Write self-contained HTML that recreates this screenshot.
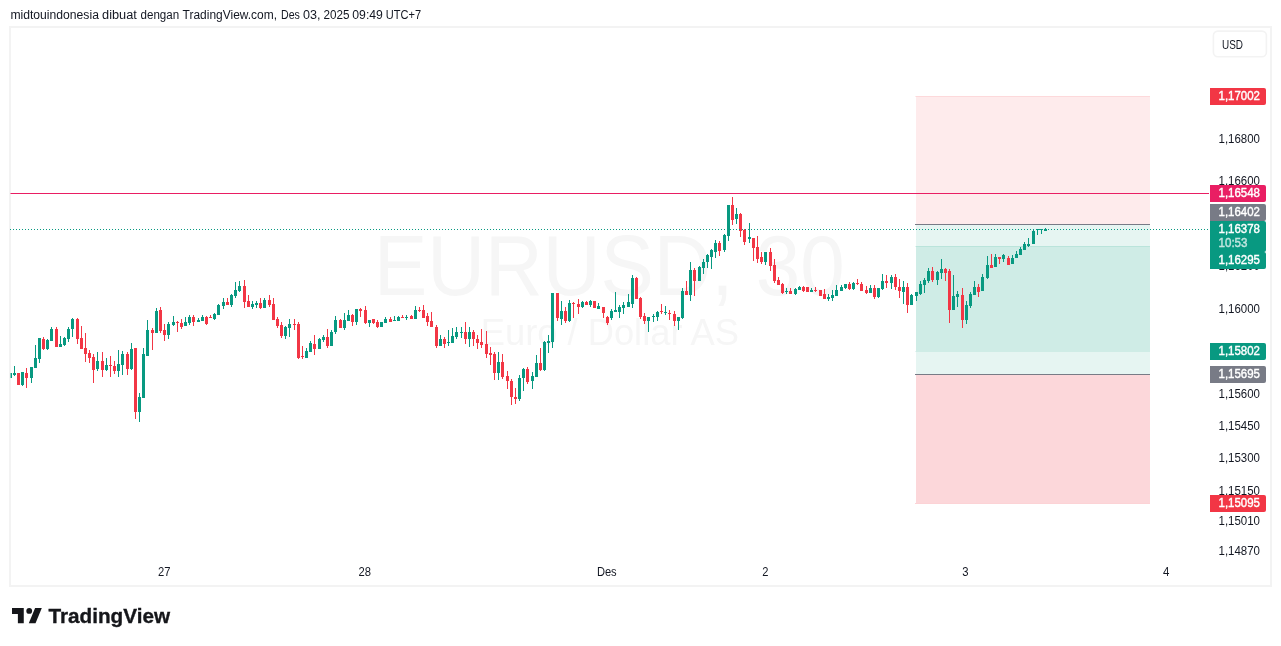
<!DOCTYPE html>
<html lang="id">
<head>
<meta charset="utf-8">
<title>EURUSD, 30 - TradingView</title>
<style>
html, body { margin: 0; padding: 0; background: #ffffff; }
body { width: 1281px; height: 646px; overflow: hidden; font-family: "Liberation Sans", sans-serif; }
svg { display: block; font-family: "Liberation Sans", sans-serif; }
</style>
</head>
<body>
<svg width="1281" height="646" viewBox="0 0 1281 646">
<rect x="10" y="27" width="1261" height="559" fill="#fff" stroke="#F3F3F3" stroke-width="2" shape-rendering="crispEdges"/>
<text x="374.1" y="295" font-size="85.5" fill="#F6F6F6" textLength="470.5" lengthAdjust="spacingAndGlyphs">EURUSD, 30</text>
<text x="480.8" y="345.3" font-size="36.5" fill="#F6F6F6" textLength="258.2" lengthAdjust="spacingAndGlyphs">Euro / Dollar AS</text>
<g shape-rendering="crispEdges">
<rect x="916" y="96" width="234" height="128" fill="#F23645" fill-opacity="0.10"/>
<rect x="915" y="96" width="235" height="1" fill="#F23645" fill-opacity="0.10"/>
<rect x="916" y="224" width="234" height="128" fill="#089981" fill-opacity="0.10"/>
<rect x="916" y="246" width="234" height="128" fill="#089981" fill-opacity="0.10"/>
<rect x="916" y="374" width="234" height="129" fill="#F23645" fill-opacity="0.20"/>
<rect x="915" y="503" width="235" height="1" fill="#F23645" fill-opacity="0.22"/>
<rect x="915" y="351" width="1" height="1" fill="#089981" fill-opacity="0.10"/>
<rect x="915" y="246" width="235" height="1" fill="#089981" fill-opacity="0.10"/>
<rect x="915" y="224" width="235" height="1" fill="#787B86"/>
<rect x="915" y="374" width="235" height="1" fill="#787B86"/>
</g>
<rect x="10.5" y="193" width="1198.5" height="1" fill="#E91E63"/>
<g shape-rendering="crispEdges">
<rect x="11" y="373" width="1" height="5" fill="#089981"/>
<rect x="10" y="373" width="1" height="5" fill="#089981" fill-opacity="0.45"/>
<rect x="14" y="366" width="1" height="10" fill="#089981"/>
<rect x="13" y="373" width="3" height="2" fill="#089981"/>
<rect x="18" y="373" width="1" height="12" fill="#F23645"/>
<rect x="17" y="373" width="3" height="12" fill="#F23645"/>
<rect x="22" y="372" width="1" height="14" fill="#089981"/>
<rect x="21" y="372" width="3" height="13" fill="#089981"/>
<rect x="26" y="368" width="1" height="20" fill="#F23645"/>
<rect x="25" y="373" width="3" height="5" fill="#F23645"/>
<rect x="31" y="367" width="1" height="16" fill="#089981"/>
<rect x="30" y="367" width="3" height="11" fill="#089981"/>
<rect x="35" y="345" width="1" height="23" fill="#089981"/>
<rect x="34" y="358" width="3" height="10" fill="#089981"/>
<rect x="39" y="338" width="1" height="25" fill="#089981"/>
<rect x="38" y="338" width="3" height="21" fill="#089981"/>
<rect x="43" y="337" width="1" height="13" fill="#F23645"/>
<rect x="42" y="339" width="3" height="10" fill="#F23645"/>
<rect x="47" y="339" width="1" height="11" fill="#089981"/>
<rect x="46" y="340" width="3" height="9" fill="#089981"/>
<rect x="51" y="327" width="1" height="14" fill="#089981"/>
<rect x="50" y="329" width="3" height="12" fill="#089981"/>
<rect x="56" y="327" width="1" height="20" fill="#F23645"/>
<rect x="55" y="329" width="3" height="18" fill="#F23645"/>
<rect x="60" y="336" width="1" height="11" fill="#089981"/>
<rect x="59" y="344" width="3" height="3" fill="#089981"/>
<rect x="64" y="337" width="1" height="9" fill="#089981"/>
<rect x="63" y="338" width="3" height="7" fill="#089981"/>
<rect x="68" y="327" width="1" height="15" fill="#089981"/>
<rect x="67" y="329" width="3" height="10" fill="#089981"/>
<rect x="72" y="318" width="1" height="19" fill="#089981"/>
<rect x="71" y="319" width="3" height="10" fill="#089981"/>
<rect x="77" y="318" width="1" height="26" fill="#F23645"/>
<rect x="76" y="319" width="3" height="20" fill="#F23645"/>
<rect x="81" y="326" width="1" height="23" fill="#F23645"/>
<rect x="80" y="338" width="3" height="11" fill="#F23645"/>
<rect x="85" y="333" width="1" height="29" fill="#F23645"/>
<rect x="84" y="348" width="3" height="6" fill="#F23645"/>
<rect x="89" y="350" width="1" height="13" fill="#F23645"/>
<rect x="88" y="353" width="3" height="5" fill="#F23645"/>
<rect x="93" y="354" width="1" height="29" fill="#F23645"/>
<rect x="92" y="357" width="3" height="13" fill="#F23645"/>
<rect x="97" y="352" width="1" height="19" fill="#089981"/>
<rect x="96" y="361" width="3" height="8" fill="#089981"/>
<rect x="102" y="352" width="1" height="25" fill="#F23645"/>
<rect x="101" y="361" width="3" height="9" fill="#F23645"/>
<rect x="106" y="358" width="1" height="13" fill="#089981"/>
<rect x="105" y="365" width="3" height="5" fill="#089981"/>
<rect x="110" y="356" width="1" height="21" fill="#F23645"/>
<rect x="109" y="365" width="3" height="1" fill="#F23645"/>
<rect x="114" y="361" width="1" height="13" fill="#F23645"/>
<rect x="113" y="366" width="3" height="5" fill="#F23645"/>
<rect x="118" y="350" width="1" height="27" fill="#089981"/>
<rect x="117" y="364" width="3" height="7" fill="#089981"/>
<rect x="122" y="351" width="1" height="24" fill="#089981"/>
<rect x="121" y="354" width="3" height="11" fill="#089981"/>
<rect x="127" y="352" width="1" height="23" fill="#F23645"/>
<rect x="126" y="354" width="3" height="15" fill="#F23645"/>
<rect x="131" y="343" width="1" height="27" fill="#089981"/>
<rect x="130" y="349" width="3" height="20" fill="#089981"/>
<rect x="135" y="348" width="1" height="71" fill="#F23645"/>
<rect x="134" y="348" width="3" height="64" fill="#F23645"/>
<rect x="139" y="393" width="1" height="29" fill="#089981"/>
<rect x="138" y="397" width="3" height="15" fill="#089981"/>
<rect x="143" y="348" width="1" height="50" fill="#089981"/>
<rect x="142" y="354" width="3" height="44" fill="#089981"/>
<rect x="147" y="320" width="1" height="36" fill="#089981"/>
<rect x="146" y="330" width="3" height="26" fill="#089981"/>
<rect x="152" y="328" width="1" height="22" fill="#F23645"/>
<rect x="151" y="330" width="3" height="3" fill="#F23645"/>
<rect x="156" y="308" width="1" height="25" fill="#089981"/>
<rect x="155" y="311" width="3" height="22" fill="#089981"/>
<rect x="160" y="307" width="1" height="26" fill="#F23645"/>
<rect x="159" y="310" width="3" height="21" fill="#F23645"/>
<rect x="164" y="324" width="1" height="17" fill="#F23645"/>
<rect x="163" y="330" width="3" height="5" fill="#F23645"/>
<rect x="168" y="322" width="1" height="17" fill="#089981"/>
<rect x="167" y="324" width="3" height="11" fill="#089981"/>
<rect x="173" y="316" width="1" height="10" fill="#089981"/>
<rect x="172" y="322" width="3" height="3" fill="#089981"/>
<rect x="177" y="321" width="1" height="11" fill="#F23645"/>
<rect x="176" y="322" width="3" height="1" fill="#F23645"/>
<rect x="181" y="319" width="1" height="10" fill="#F23645"/>
<rect x="180" y="323" width="3" height="4" fill="#F23645"/>
<rect x="185" y="317" width="1" height="9" fill="#089981"/>
<rect x="184" y="322" width="3" height="4" fill="#089981"/>
<rect x="189" y="315" width="1" height="10" fill="#089981"/>
<rect x="188" y="317" width="3" height="6" fill="#089981"/>
<rect x="193" y="315" width="1" height="11" fill="#F23645"/>
<rect x="192" y="317" width="3" height="5" fill="#F23645"/>
<rect x="198" y="318" width="1" height="4" fill="#089981"/>
<rect x="197" y="320" width="3" height="2" fill="#089981"/>
<rect x="202" y="315" width="1" height="6" fill="#089981"/>
<rect x="201" y="317" width="3" height="4" fill="#089981"/>
<rect x="206" y="316" width="1" height="9" fill="#F23645"/>
<rect x="205" y="317" width="3" height="7" fill="#F23645"/>
<rect x="210" y="315" width="1" height="3" fill="#F23645"/>
<rect x="209" y="317" width="3" height="1" fill="#F23645"/>
<rect x="214" y="313" width="1" height="7" fill="#089981"/>
<rect x="213" y="314" width="3" height="5" fill="#089981"/>
<rect x="218" y="304" width="1" height="11" fill="#089981"/>
<rect x="217" y="305" width="3" height="10" fill="#089981"/>
<rect x="223" y="298" width="1" height="11" fill="#089981"/>
<rect x="222" y="302" width="3" height="4" fill="#089981"/>
<rect x="227" y="298" width="1" height="7" fill="#F23645"/>
<rect x="226" y="302" width="3" height="3" fill="#F23645"/>
<rect x="231" y="294" width="1" height="13" fill="#089981"/>
<rect x="230" y="295" width="3" height="10" fill="#089981"/>
<rect x="235" y="282" width="1" height="16" fill="#089981"/>
<rect x="234" y="290" width="3" height="6" fill="#089981"/>
<rect x="239" y="281" width="1" height="11" fill="#089981"/>
<rect x="238" y="286" width="3" height="5" fill="#089981"/>
<rect x="244" y="280" width="1" height="28" fill="#F23645"/>
<rect x="243" y="286" width="3" height="16" fill="#F23645"/>
<rect x="248" y="295" width="1" height="12" fill="#F23645"/>
<rect x="247" y="301" width="3" height="6" fill="#F23645"/>
<rect x="252" y="301" width="1" height="8" fill="#089981"/>
<rect x="251" y="304" width="3" height="3" fill="#089981"/>
<rect x="256" y="301" width="1" height="7" fill="#089981"/>
<rect x="255" y="303" width="3" height="2" fill="#089981"/>
<rect x="260" y="298" width="1" height="11" fill="#F23645"/>
<rect x="259" y="303" width="3" height="5" fill="#F23645"/>
<rect x="264" y="298" width="1" height="10" fill="#089981"/>
<rect x="263" y="300" width="3" height="8" fill="#089981"/>
<rect x="269" y="295" width="1" height="12" fill="#F23645"/>
<rect x="268" y="300" width="3" height="5" fill="#F23645"/>
<rect x="273" y="298" width="1" height="22" fill="#F23645"/>
<rect x="272" y="304" width="3" height="16" fill="#F23645"/>
<rect x="277" y="317" width="1" height="11" fill="#F23645"/>
<rect x="276" y="319" width="3" height="7" fill="#F23645"/>
<rect x="281" y="322" width="1" height="16" fill="#F23645"/>
<rect x="280" y="325" width="3" height="11" fill="#F23645"/>
<rect x="285" y="326" width="1" height="13" fill="#089981"/>
<rect x="284" y="327" width="3" height="9" fill="#089981"/>
<rect x="289" y="319" width="1" height="18" fill="#089981"/>
<rect x="288" y="324" width="3" height="4" fill="#089981"/>
<rect x="294" y="319" width="1" height="11" fill="#F23645"/>
<rect x="293" y="324" width="3" height="1" fill="#F23645"/>
<rect x="298" y="322" width="1" height="37" fill="#F23645"/>
<rect x="297" y="324" width="3" height="34" fill="#F23645"/>
<rect x="302" y="346" width="1" height="13" fill="#F23645"/>
<rect x="301" y="356" width="3" height="1" fill="#F23645"/>
<rect x="306" y="348" width="1" height="10" fill="#089981"/>
<rect x="305" y="351" width="3" height="7" fill="#089981"/>
<rect x="310" y="341" width="1" height="11" fill="#089981"/>
<rect x="309" y="343" width="3" height="9" fill="#089981"/>
<rect x="314" y="335" width="1" height="20" fill="#F23645"/>
<rect x="313" y="344" width="3" height="5" fill="#F23645"/>
<rect x="319" y="338" width="1" height="11" fill="#089981"/>
<rect x="318" y="339" width="3" height="10" fill="#089981"/>
<rect x="323" y="335" width="1" height="7" fill="#089981"/>
<rect x="322" y="337" width="3" height="3" fill="#089981"/>
<rect x="327" y="329" width="1" height="19" fill="#F23645"/>
<rect x="326" y="337" width="3" height="9" fill="#F23645"/>
<rect x="331" y="330" width="1" height="16" fill="#089981"/>
<rect x="330" y="332" width="3" height="14" fill="#089981"/>
<rect x="335" y="316" width="1" height="18" fill="#089981"/>
<rect x="334" y="320" width="3" height="12" fill="#089981"/>
<rect x="340" y="319" width="1" height="9" fill="#F23645"/>
<rect x="339" y="320" width="3" height="8" fill="#F23645"/>
<rect x="344" y="313" width="1" height="17" fill="#089981"/>
<rect x="343" y="320" width="3" height="8" fill="#089981"/>
<rect x="348" y="310" width="1" height="11" fill="#089981"/>
<rect x="347" y="315" width="3" height="6" fill="#089981"/>
<rect x="352" y="314" width="1" height="12" fill="#F23645"/>
<rect x="351" y="315" width="3" height="7" fill="#F23645"/>
<rect x="356" y="309" width="1" height="16" fill="#089981"/>
<rect x="355" y="309" width="3" height="13" fill="#089981"/>
<rect x="360" y="308" width="1" height="9" fill="#F23645"/>
<rect x="359" y="309" width="3" height="2" fill="#F23645"/>
<rect x="365" y="306" width="1" height="18" fill="#F23645"/>
<rect x="364" y="310" width="3" height="13" fill="#F23645"/>
<rect x="369" y="320" width="1" height="7" fill="#089981"/>
<rect x="368" y="320" width="3" height="3" fill="#089981"/>
<rect x="373" y="319" width="1" height="5" fill="#F23645"/>
<rect x="372" y="319" width="3" height="4" fill="#F23645"/>
<rect x="377" y="320" width="1" height="8" fill="#F23645"/>
<rect x="376" y="322" width="3" height="5" fill="#F23645"/>
<rect x="381" y="322" width="1" height="5" fill="#089981"/>
<rect x="380" y="322" width="3" height="5" fill="#089981"/>
<rect x="385" y="317" width="1" height="6" fill="#089981"/>
<rect x="384" y="319" width="3" height="4" fill="#089981"/>
<rect x="390" y="317" width="1" height="5" fill="#F23645"/>
<rect x="389" y="319" width="3" height="3" fill="#F23645"/>
<rect x="394" y="316" width="1" height="5" fill="#089981"/>
<rect x="393" y="320" width="3" height="1" fill="#089981"/>
<rect x="398" y="316" width="1" height="5" fill="#089981"/>
<rect x="397" y="317" width="3" height="4" fill="#089981"/>
<rect x="402" y="315" width="1" height="3" fill="#F23645"/>
<rect x="401" y="317" width="3" height="1" fill="#F23645"/>
<rect x="406" y="315" width="1" height="5" fill="#089981"/>
<rect x="405" y="317" width="3" height="1" fill="#089981"/>
<rect x="411" y="315" width="1" height="4" fill="#F23645"/>
<rect x="410" y="316" width="3" height="3" fill="#F23645"/>
<rect x="415" y="306" width="1" height="13" fill="#089981"/>
<rect x="414" y="310" width="3" height="9" fill="#089981"/>
<rect x="419" y="307" width="1" height="5" fill="#F23645"/>
<rect x="418" y="310" width="3" height="1" fill="#F23645"/>
<rect x="423" y="305" width="1" height="13" fill="#F23645"/>
<rect x="422" y="310" width="3" height="8" fill="#F23645"/>
<rect x="427" y="313" width="1" height="13" fill="#F23645"/>
<rect x="426" y="316" width="3" height="6" fill="#F23645"/>
<rect x="431" y="312" width="1" height="15" fill="#F23645"/>
<rect x="430" y="321" width="3" height="6" fill="#F23645"/>
<rect x="436" y="325" width="1" height="23" fill="#F23645"/>
<rect x="435" y="327" width="3" height="19" fill="#F23645"/>
<rect x="440" y="335" width="1" height="11" fill="#089981"/>
<rect x="439" y="339" width="3" height="7" fill="#089981"/>
<rect x="444" y="337" width="1" height="11" fill="#F23645"/>
<rect x="443" y="339" width="3" height="5" fill="#F23645"/>
<rect x="448" y="330" width="1" height="16" fill="#089981"/>
<rect x="447" y="342" width="3" height="1" fill="#089981"/>
<rect x="452" y="328" width="1" height="15" fill="#089981"/>
<rect x="451" y="336" width="3" height="7" fill="#089981"/>
<rect x="456" y="327" width="1" height="12" fill="#089981"/>
<rect x="455" y="332" width="3" height="5" fill="#089981"/>
<rect x="461" y="327" width="1" height="11" fill="#089981"/>
<rect x="460" y="332" width="3" height="1" fill="#089981"/>
<rect x="465" y="322" width="1" height="22" fill="#F23645"/>
<rect x="464" y="332" width="3" height="7" fill="#F23645"/>
<rect x="469" y="327" width="1" height="20" fill="#089981"/>
<rect x="468" y="332" width="3" height="7" fill="#089981"/>
<rect x="473" y="330" width="1" height="16" fill="#F23645"/>
<rect x="472" y="332" width="3" height="7" fill="#F23645"/>
<rect x="477" y="335" width="1" height="14" fill="#F23645"/>
<rect x="476" y="339" width="3" height="4" fill="#F23645"/>
<rect x="481" y="329" width="1" height="19" fill="#F23645"/>
<rect x="480" y="342" width="3" height="3" fill="#F23645"/>
<rect x="486" y="331" width="1" height="27" fill="#F23645"/>
<rect x="485" y="344" width="3" height="10" fill="#F23645"/>
<rect x="490" y="347" width="1" height="18" fill="#F23645"/>
<rect x="489" y="353" width="3" height="2" fill="#F23645"/>
<rect x="494" y="352" width="1" height="28" fill="#F23645"/>
<rect x="493" y="354" width="3" height="19" fill="#F23645"/>
<rect x="498" y="352" width="1" height="28" fill="#089981"/>
<rect x="497" y="362" width="3" height="11" fill="#089981"/>
<rect x="502" y="354" width="1" height="25" fill="#F23645"/>
<rect x="501" y="362" width="3" height="15" fill="#F23645"/>
<rect x="507" y="371" width="1" height="18" fill="#F23645"/>
<rect x="506" y="376" width="3" height="5" fill="#F23645"/>
<rect x="511" y="379" width="1" height="26" fill="#F23645"/>
<rect x="510" y="381" width="3" height="16" fill="#F23645"/>
<rect x="515" y="388" width="1" height="16" fill="#F23645"/>
<rect x="514" y="397" width="3" height="2" fill="#F23645"/>
<rect x="519" y="375" width="1" height="26" fill="#089981"/>
<rect x="518" y="378" width="3" height="21" fill="#089981"/>
<rect x="523" y="368" width="1" height="23" fill="#089981"/>
<rect x="522" y="369" width="3" height="9" fill="#089981"/>
<rect x="527" y="367" width="1" height="17" fill="#F23645"/>
<rect x="526" y="369" width="3" height="13" fill="#F23645"/>
<rect x="532" y="372" width="1" height="17" fill="#089981"/>
<rect x="531" y="376" width="3" height="5" fill="#089981"/>
<rect x="536" y="355" width="1" height="22" fill="#089981"/>
<rect x="535" y="363" width="3" height="14" fill="#089981"/>
<rect x="540" y="348" width="1" height="23" fill="#F23645"/>
<rect x="539" y="363" width="3" height="7" fill="#F23645"/>
<rect x="544" y="341" width="1" height="30" fill="#089981"/>
<rect x="543" y="342" width="3" height="28" fill="#089981"/>
<rect x="548" y="335" width="1" height="18" fill="#089981"/>
<rect x="547" y="341" width="3" height="2" fill="#089981"/>
<rect x="552" y="293" width="1" height="55" fill="#089981"/>
<rect x="551" y="293" width="3" height="49" fill="#089981"/>
<rect x="557" y="293" width="1" height="28" fill="#F23645"/>
<rect x="556" y="293" width="3" height="25" fill="#F23645"/>
<rect x="561" y="301" width="1" height="24" fill="#089981"/>
<rect x="560" y="311" width="3" height="8" fill="#089981"/>
<rect x="565" y="307" width="1" height="16" fill="#F23645"/>
<rect x="564" y="311" width="3" height="10" fill="#F23645"/>
<rect x="569" y="300" width="1" height="22" fill="#089981"/>
<rect x="568" y="303" width="3" height="18" fill="#089981"/>
<rect x="573" y="302" width="1" height="16" fill="#F23645"/>
<rect x="572" y="303" width="3" height="1" fill="#F23645"/>
<rect x="578" y="299" width="1" height="15" fill="#F23645"/>
<rect x="577" y="304" width="3" height="3" fill="#F23645"/>
<rect x="582" y="301" width="1" height="7" fill="#089981"/>
<rect x="581" y="302" width="3" height="5" fill="#089981"/>
<rect x="586" y="301" width="1" height="4" fill="#F23645"/>
<rect x="585" y="302" width="3" height="3" fill="#F23645"/>
<rect x="590" y="300" width="1" height="7" fill="#089981"/>
<rect x="589" y="301" width="3" height="4" fill="#089981"/>
<rect x="594" y="301" width="1" height="7" fill="#F23645"/>
<rect x="593" y="301" width="3" height="7" fill="#F23645"/>
<rect x="598" y="303" width="1" height="6" fill="#089981"/>
<rect x="597" y="306" width="3" height="3" fill="#089981"/>
<rect x="603" y="307" width="1" height="11" fill="#F23645"/>
<rect x="602" y="307" width="3" height="6" fill="#F23645"/>
<rect x="607" y="316" width="1" height="9" fill="#F23645"/>
<rect x="606" y="317" width="3" height="6" fill="#F23645"/>
<rect x="611" y="309" width="1" height="11" fill="#089981"/>
<rect x="610" y="311" width="3" height="7" fill="#089981"/>
<rect x="615" y="292" width="1" height="20" fill="#089981"/>
<rect x="614" y="310" width="3" height="2" fill="#089981"/>
<rect x="619" y="305" width="1" height="13" fill="#089981"/>
<rect x="618" y="307" width="3" height="5" fill="#089981"/>
<rect x="623" y="302" width="1" height="12" fill="#089981"/>
<rect x="622" y="305" width="3" height="3" fill="#089981"/>
<rect x="628" y="294" width="1" height="13" fill="#089981"/>
<rect x="627" y="302" width="3" height="5" fill="#089981"/>
<rect x="632" y="275" width="1" height="33" fill="#089981"/>
<rect x="631" y="278" width="3" height="26" fill="#089981"/>
<rect x="636" y="277" width="1" height="22" fill="#F23645"/>
<rect x="635" y="278" width="3" height="21" fill="#F23645"/>
<rect x="640" y="297" width="1" height="22" fill="#F23645"/>
<rect x="639" y="298" width="3" height="19" fill="#F23645"/>
<rect x="644" y="313" width="1" height="11" fill="#F23645"/>
<rect x="643" y="316" width="3" height="5" fill="#F23645"/>
<rect x="648" y="317" width="1" height="15" fill="#089981"/>
<rect x="647" y="317" width="3" height="4" fill="#089981"/>
<rect x="653" y="314" width="1" height="8" fill="#089981"/>
<rect x="652" y="316" width="3" height="1" fill="#089981"/>
<rect x="657" y="311" width="1" height="10" fill="#089981"/>
<rect x="656" y="312" width="3" height="5" fill="#089981"/>
<rect x="661" y="304" width="1" height="10" fill="#F23645"/>
<rect x="660" y="311" width="3" height="1" fill="#F23645"/>
<rect x="665" y="306" width="1" height="9" fill="#089981"/>
<rect x="664" y="312" width="3" height="1" fill="#089981"/>
<rect x="669" y="310" width="1" height="10" fill="#F23645"/>
<rect x="668" y="313" width="3" height="1" fill="#F23645"/>
<rect x="674" y="311" width="1" height="15" fill="#F23645"/>
<rect x="673" y="314" width="3" height="7" fill="#F23645"/>
<rect x="678" y="317" width="1" height="13" fill="#089981"/>
<rect x="677" y="317" width="3" height="4" fill="#089981"/>
<rect x="682" y="288" width="1" height="31" fill="#089981"/>
<rect x="681" y="291" width="3" height="27" fill="#089981"/>
<rect x="686" y="281" width="1" height="14" fill="#F23645"/>
<rect x="685" y="291" width="3" height="4" fill="#F23645"/>
<rect x="690" y="262" width="1" height="39" fill="#089981"/>
<rect x="689" y="270" width="3" height="25" fill="#089981"/>
<rect x="694" y="268" width="1" height="28" fill="#F23645"/>
<rect x="693" y="270" width="3" height="11" fill="#F23645"/>
<rect x="699" y="266" width="1" height="15" fill="#089981"/>
<rect x="698" y="267" width="3" height="14" fill="#089981"/>
<rect x="703" y="259" width="1" height="15" fill="#089981"/>
<rect x="702" y="262" width="3" height="6" fill="#089981"/>
<rect x="707" y="254" width="1" height="14" fill="#089981"/>
<rect x="706" y="255" width="3" height="7" fill="#089981"/>
<rect x="711" y="249" width="1" height="20" fill="#089981"/>
<rect x="710" y="250" width="3" height="7" fill="#089981"/>
<rect x="715" y="240" width="1" height="18" fill="#089981"/>
<rect x="714" y="243" width="3" height="9" fill="#089981"/>
<rect x="719" y="241" width="1" height="15" fill="#F23645"/>
<rect x="718" y="243" width="3" height="8" fill="#F23645"/>
<rect x="724" y="234" width="1" height="18" fill="#089981"/>
<rect x="723" y="235" width="3" height="15" fill="#089981"/>
<rect x="728" y="205" width="1" height="36" fill="#089981"/>
<rect x="727" y="205" width="3" height="31" fill="#089981"/>
<rect x="732" y="197" width="1" height="28" fill="#F23645"/>
<rect x="731" y="205" width="3" height="15" fill="#F23645"/>
<rect x="736" y="208" width="1" height="16" fill="#089981"/>
<rect x="735" y="214" width="3" height="5" fill="#089981"/>
<rect x="740" y="213" width="1" height="24" fill="#F23645"/>
<rect x="739" y="214" width="3" height="17" fill="#F23645"/>
<rect x="744" y="229" width="1" height="16" fill="#F23645"/>
<rect x="743" y="230" width="3" height="12" fill="#F23645"/>
<rect x="749" y="223" width="1" height="20" fill="#089981"/>
<rect x="748" y="237" width="3" height="2" fill="#089981"/>
<rect x="753" y="238" width="1" height="23" fill="#F23645"/>
<rect x="752" y="238" width="3" height="10" fill="#F23645"/>
<rect x="757" y="236" width="1" height="27" fill="#F23645"/>
<rect x="756" y="247" width="3" height="12" fill="#F23645"/>
<rect x="761" y="252" width="1" height="12" fill="#F23645"/>
<rect x="760" y="257" width="3" height="5" fill="#F23645"/>
<rect x="765" y="252" width="1" height="13" fill="#089981"/>
<rect x="764" y="252" width="3" height="10" fill="#089981"/>
<rect x="770" y="248" width="1" height="23" fill="#F23645"/>
<rect x="769" y="252" width="3" height="14" fill="#F23645"/>
<rect x="774" y="259" width="1" height="24" fill="#F23645"/>
<rect x="773" y="265" width="3" height="16" fill="#F23645"/>
<rect x="778" y="277" width="1" height="8" fill="#F23645"/>
<rect x="777" y="280" width="3" height="5" fill="#F23645"/>
<rect x="782" y="283" width="1" height="11" fill="#F23645"/>
<rect x="781" y="284" width="3" height="9" fill="#F23645"/>
<rect x="786" y="288" width="1" height="6" fill="#089981"/>
<rect x="785" y="291" width="3" height="1" fill="#089981"/>
<rect x="790" y="288" width="1" height="6" fill="#F23645"/>
<rect x="789" y="291" width="3" height="3" fill="#F23645"/>
<rect x="795" y="288" width="1" height="7" fill="#089981"/>
<rect x="794" y="289" width="3" height="5" fill="#089981"/>
<rect x="799" y="286" width="1" height="4" fill="#089981"/>
<rect x="798" y="287" width="3" height="3" fill="#089981"/>
<rect x="803" y="286" width="1" height="6" fill="#F23645"/>
<rect x="802" y="287" width="3" height="4" fill="#F23645"/>
<rect x="807" y="287" width="1" height="5" fill="#F23645"/>
<rect x="806" y="287" width="3" height="5" fill="#F23645"/>
<rect x="811" y="288" width="1" height="4" fill="#089981"/>
<rect x="810" y="290" width="3" height="2" fill="#089981"/>
<rect x="815" y="287" width="1" height="5" fill="#F23645"/>
<rect x="814" y="290" width="3" height="1" fill="#F23645"/>
<rect x="820" y="290" width="1" height="6" fill="#F23645"/>
<rect x="819" y="290" width="3" height="6" fill="#F23645"/>
<rect x="824" y="289" width="1" height="10" fill="#F23645"/>
<rect x="823" y="294" width="3" height="5" fill="#F23645"/>
<rect x="828" y="294" width="1" height="7" fill="#089981"/>
<rect x="827" y="297" width="3" height="2" fill="#089981"/>
<rect x="832" y="290" width="1" height="11" fill="#089981"/>
<rect x="831" y="295" width="3" height="3" fill="#089981"/>
<rect x="836" y="285" width="1" height="11" fill="#089981"/>
<rect x="835" y="290" width="3" height="6" fill="#089981"/>
<rect x="841" y="285" width="1" height="6" fill="#089981"/>
<rect x="840" y="287" width="3" height="4" fill="#089981"/>
<rect x="845" y="284" width="1" height="5" fill="#089981"/>
<rect x="844" y="284" width="3" height="4" fill="#089981"/>
<rect x="849" y="282" width="1" height="8" fill="#F23645"/>
<rect x="848" y="284" width="3" height="5" fill="#F23645"/>
<rect x="853" y="282" width="1" height="8" fill="#089981"/>
<rect x="852" y="283" width="3" height="6" fill="#089981"/>
<rect x="857" y="279" width="1" height="6" fill="#F23645"/>
<rect x="856" y="283" width="3" height="1" fill="#F23645"/>
<rect x="861" y="282" width="1" height="9" fill="#F23645"/>
<rect x="860" y="284" width="3" height="7" fill="#F23645"/>
<rect x="866" y="286" width="1" height="8" fill="#F23645"/>
<rect x="865" y="290" width="3" height="3" fill="#F23645"/>
<rect x="870" y="285" width="1" height="8" fill="#089981"/>
<rect x="869" y="288" width="3" height="5" fill="#089981"/>
<rect x="874" y="285" width="1" height="14" fill="#F23645"/>
<rect x="873" y="288" width="3" height="9" fill="#F23645"/>
<rect x="878" y="288" width="1" height="10" fill="#089981"/>
<rect x="877" y="288" width="3" height="9" fill="#089981"/>
<rect x="882" y="274" width="1" height="16" fill="#089981"/>
<rect x="881" y="281" width="3" height="8" fill="#089981"/>
<rect x="886" y="275" width="1" height="13" fill="#F23645"/>
<rect x="885" y="281" width="3" height="2" fill="#F23645"/>
<rect x="891" y="275" width="1" height="14" fill="#089981"/>
<rect x="890" y="277" width="3" height="6" fill="#089981"/>
<rect x="895" y="274" width="1" height="16" fill="#F23645"/>
<rect x="894" y="277" width="3" height="10" fill="#F23645"/>
<rect x="899" y="279" width="1" height="19" fill="#F23645"/>
<rect x="898" y="287" width="3" height="4" fill="#F23645"/>
<rect x="903" y="281" width="1" height="23" fill="#089981"/>
<rect x="902" y="287" width="3" height="5" fill="#089981"/>
<rect x="907" y="283" width="1" height="30" fill="#F23645"/>
<rect x="906" y="287" width="3" height="18" fill="#F23645"/>
<rect x="911" y="294" width="1" height="11" fill="#089981"/>
<rect x="910" y="295" width="3" height="10" fill="#089981"/>
<rect x="916" y="292" width="1" height="9" fill="#089981"/>
<rect x="915" y="292" width="3" height="4" fill="#089981"/>
<rect x="920" y="281" width="1" height="14" fill="#089981"/>
<rect x="919" y="284" width="3" height="10" fill="#089981"/>
<rect x="924" y="278" width="1" height="15" fill="#089981"/>
<rect x="923" y="280" width="3" height="5" fill="#089981"/>
<rect x="928" y="268" width="1" height="15" fill="#089981"/>
<rect x="927" y="271" width="3" height="10" fill="#089981"/>
<rect x="932" y="267" width="1" height="15" fill="#F23645"/>
<rect x="931" y="271" width="3" height="9" fill="#F23645"/>
<rect x="937" y="271" width="1" height="14" fill="#089981"/>
<rect x="936" y="272" width="3" height="8" fill="#089981"/>
<rect x="941" y="259" width="1" height="20" fill="#089981"/>
<rect x="940" y="269" width="3" height="4" fill="#089981"/>
<rect x="945" y="268" width="1" height="13" fill="#F23645"/>
<rect x="944" y="269" width="3" height="4" fill="#F23645"/>
<rect x="949" y="269" width="1" height="54" fill="#F23645"/>
<rect x="948" y="271" width="3" height="39" fill="#F23645"/>
<rect x="953" y="275" width="1" height="35" fill="#089981"/>
<rect x="952" y="296" width="3" height="14" fill="#089981"/>
<rect x="957" y="291" width="1" height="16" fill="#089981"/>
<rect x="956" y="294" width="3" height="3" fill="#089981"/>
<rect x="962" y="288" width="1" height="40" fill="#F23645"/>
<rect x="961" y="295" width="3" height="25" fill="#F23645"/>
<rect x="966" y="301" width="1" height="23" fill="#089981"/>
<rect x="965" y="305" width="3" height="15" fill="#089981"/>
<rect x="970" y="292" width="1" height="16" fill="#089981"/>
<rect x="969" y="294" width="3" height="12" fill="#089981"/>
<rect x="974" y="281" width="1" height="14" fill="#089981"/>
<rect x="973" y="287" width="3" height="8" fill="#089981"/>
<rect x="978" y="284" width="1" height="13" fill="#F23645"/>
<rect x="977" y="287" width="3" height="5" fill="#F23645"/>
<rect x="982" y="274" width="1" height="17" fill="#089981"/>
<rect x="981" y="277" width="3" height="14" fill="#089981"/>
<rect x="987" y="256" width="1" height="23" fill="#089981"/>
<rect x="986" y="265" width="3" height="13" fill="#089981"/>
<rect x="991" y="254" width="1" height="14" fill="#F23645"/>
<rect x="990" y="265" width="3" height="3" fill="#F23645"/>
<rect x="995" y="254" width="1" height="13" fill="#089981"/>
<rect x="994" y="257" width="3" height="10" fill="#089981"/>
<rect x="999" y="257" width="1" height="7" fill="#F23645"/>
<rect x="998" y="257" width="3" height="2" fill="#F23645"/>
<rect x="1003" y="254" width="1" height="8" fill="#089981"/>
<rect x="1002" y="255" width="3" height="4" fill="#089981"/>
<rect x="1008" y="256" width="1" height="9" fill="#F23645"/>
<rect x="1007" y="258" width="3" height="7" fill="#F23645"/>
<rect x="1012" y="255" width="1" height="9" fill="#089981"/>
<rect x="1011" y="258" width="3" height="6" fill="#089981"/>
<rect x="1016" y="251" width="1" height="7" fill="#089981"/>
<rect x="1015" y="254" width="3" height="4" fill="#089981"/>
<rect x="1020" y="247" width="1" height="8" fill="#089981"/>
<rect x="1019" y="249" width="3" height="6" fill="#089981"/>
<rect x="1024" y="242" width="1" height="8" fill="#089981"/>
<rect x="1023" y="244" width="3" height="6" fill="#089981"/>
<rect x="1028" y="238" width="1" height="9" fill="#089981"/>
<rect x="1027" y="244" width="3" height="2" fill="#089981"/>
<rect x="1033" y="229" width="1" height="15" fill="#089981"/>
<rect x="1032" y="231" width="3" height="13" fill="#089981"/>
<rect x="1037" y="229" width="1" height="6" fill="#089981"/>
<rect x="1036" y="229" width="3" height="1" fill="#089981"/>
<rect x="1041" y="229" width="1" height="5" fill="#089981"/>
<rect x="1040" y="229" width="3" height="1" fill="#089981"/>
<rect x="1045" y="228" width="1" height="3" fill="#089981"/>
<rect x="1044" y="229" width="3" height="2" fill="#089981"/>
</g>
<line x1="10" y1="229.5" x2="1210" y2="229.5" stroke="#089981" stroke-width="1" stroke-dasharray="1 2" shape-rendering="crispEdges"/>
<text x="1218.5" y="143" font-size="12" fill="#131722" textLength="41.5" lengthAdjust="spacingAndGlyphs">1,16800</text>
<text x="1218.5" y="185" font-size="12" fill="#131722" textLength="41.5" lengthAdjust="spacingAndGlyphs">1,16600</text>
<text x="1218.5" y="270" font-size="12" fill="#131722" textLength="41.5" lengthAdjust="spacingAndGlyphs">1,16200</text>
<text x="1218.5" y="313" font-size="12" fill="#131722" textLength="41.5" lengthAdjust="spacingAndGlyphs">1,16000</text>
<text x="1218.5" y="398" font-size="12" fill="#131722" textLength="41.5" lengthAdjust="spacingAndGlyphs">1,15600</text>
<text x="1218.5" y="430" font-size="12" fill="#131722" textLength="41.5" lengthAdjust="spacingAndGlyphs">1,15450</text>
<text x="1218.5" y="462" font-size="12" fill="#131722" textLength="41.5" lengthAdjust="spacingAndGlyphs">1,15300</text>
<text x="1218.5" y="494.5" font-size="12" fill="#131722" textLength="41.5" lengthAdjust="spacingAndGlyphs">1,15150</text>
<text x="1218.5" y="525" font-size="12" fill="#131722" textLength="41.5" lengthAdjust="spacingAndGlyphs">1,15010</text>
<text x="1218.5" y="555" font-size="12" fill="#131722" textLength="41.5" lengthAdjust="spacingAndGlyphs">1,14870</text>
<path d="M1210 88 h54 a2 2 0 0 1 2 2 v13 a2 2 0 0 1 -2 2 h-54 z" fill="#F23645"/>
<text x="1218.5" y="100" font-size="12" fill="#fff" stroke="#fff" stroke-width="0.4" textLength="41.5" lengthAdjust="spacingAndGlyphs">1,17002</text>
<path d="M1210 185 h54 a2 2 0 0 1 2 2 v13 a2 2 0 0 1 -2 2 h-54 z" fill="#E91E63"/>
<text x="1218.5" y="197" font-size="12" fill="#fff" stroke="#fff" stroke-width="0.4" textLength="41.5" lengthAdjust="spacingAndGlyphs">1,16548</text>
<path d="M1210 204 h54 a2 2 0 0 1 2 2 v13 a2 2 0 0 1 -2 2 h-54 z" fill="#787B86"/>
<text x="1218.5" y="216" font-size="12" fill="#fff" stroke="#fff" stroke-width="0.4" textLength="41.5" lengthAdjust="spacingAndGlyphs">1,16402</text>
<path d="M1210 221 h54 a2 2 0 0 1 2 2 v27 a2 2 0 0 1 -2 2 h-54 z" fill="#089981"/>
<text x="1218.5" y="233" font-size="12" fill="#fff" stroke="#fff" stroke-width="0.4" textLength="41.5" lengthAdjust="spacingAndGlyphs">1,16378</text>
<text x="1218.5" y="247" font-size="12" fill="#fff" stroke="#fff" stroke-width="0.4" opacity="0.75" textLength="29" lengthAdjust="spacingAndGlyphs">10:53</text>
<path d="M1210 252 h54 a2 2 0 0 1 2 2 v13 a2 2 0 0 1 -2 2 h-54 z" fill="#089981"/>
<text x="1218.5" y="264" font-size="12" fill="#fff" stroke="#fff" stroke-width="0.4" textLength="41.5" lengthAdjust="spacingAndGlyphs">1,16295</text>
<path d="M1210 343 h54 a2 2 0 0 1 2 2 v13 a2 2 0 0 1 -2 2 h-54 z" fill="#089981"/>
<text x="1218.5" y="355" font-size="12" fill="#fff" stroke="#fff" stroke-width="0.4" textLength="41.5" lengthAdjust="spacingAndGlyphs">1,15802</text>
<path d="M1210 366 h54 a2 2 0 0 1 2 2 v13 a2 2 0 0 1 -2 2 h-54 z" fill="#787B86"/>
<text x="1218.5" y="378" font-size="12" fill="#fff" stroke="#fff" stroke-width="0.4" textLength="41.5" lengthAdjust="spacingAndGlyphs">1,15695</text>
<path d="M1210 495 h54 a2 2 0 0 1 2 2 v13 a2 2 0 0 1 -2 2 h-54 z" fill="#F23645"/>
<text x="1218.5" y="507" font-size="12" fill="#fff" stroke="#fff" stroke-width="0.4" textLength="41.5" lengthAdjust="spacingAndGlyphs">1,15095</text>
<rect x="1213.4" y="31.1" width="53" height="25.6" rx="4.5" fill="#fff" stroke="#F3F3F3" stroke-width="1.6"/>
<text x="1222" y="49" font-size="12" fill="#131722" textLength="21" lengthAdjust="spacingAndGlyphs">USD</text>
<text x="158.0" y="576.3" font-size="12" fill="#131722" textLength="12.5" lengthAdjust="spacingAndGlyphs">27</text>
<text x="358.4" y="576.3" font-size="12" fill="#131722" textLength="12.5" lengthAdjust="spacingAndGlyphs">28</text>
<text x="596.9" y="576.3" font-size="12" fill="#131722" textLength="19.8" lengthAdjust="spacingAndGlyphs">Des</text>
<text x="762.3" y="576.3" font-size="12" fill="#131722" textLength="6.2" lengthAdjust="spacingAndGlyphs">2</text>
<text x="962.3" y="576.3" font-size="12" fill="#131722" textLength="6.3" lengthAdjust="spacingAndGlyphs">3</text>
<text x="1163.0" y="576.3" font-size="12" fill="#131722" textLength="6.4" lengthAdjust="spacingAndGlyphs">4</text>
<text y="18.6" font-size="12.3" fill="#131722"><tspan x="10.4" textLength="88.5" lengthAdjust="spacingAndGlyphs">midtouindonesia</tspan> <tspan x="102.04" textLength="34.8" lengthAdjust="spacingAndGlyphs">dibuat</tspan> <tspan x="140.5" textLength="38.7" lengthAdjust="spacingAndGlyphs">dengan</tspan> <tspan x="182.62" textLength="94.4" lengthAdjust="spacingAndGlyphs">TradingView.com,</tspan> <tspan x="281.0" textLength="18.9" lengthAdjust="spacingAndGlyphs">Des</tspan> <tspan x="303.0" textLength="17.5" lengthAdjust="spacingAndGlyphs">03,</tspan> <tspan x="323.4" textLength="26.0" lengthAdjust="spacingAndGlyphs">2025</tspan> <tspan x="352.3" textLength="30.6" lengthAdjust="spacingAndGlyphs">09:49</tspan> <tspan x="385.83" textLength="35.3" lengthAdjust="spacingAndGlyphs">UTC+7</tspan></text>
<g fill="#15161A">
<g transform="translate(12 604.75) scale(0.84)">
<path d="M14 22H7V11H0V4h14v18z"/>
<circle cx="20.5" cy="7.4" r="3.45"/>
<path d="M28 22h-8l7.5-18h8L28 22z"/>
</g>
<text x="48.5" y="623" font-size="21" font-weight="bold" stroke="#15161A" stroke-width="0.35" textLength="121.5" lengthAdjust="spacingAndGlyphs">TradingView</text>
</g>
</svg>
</body>
</html>
